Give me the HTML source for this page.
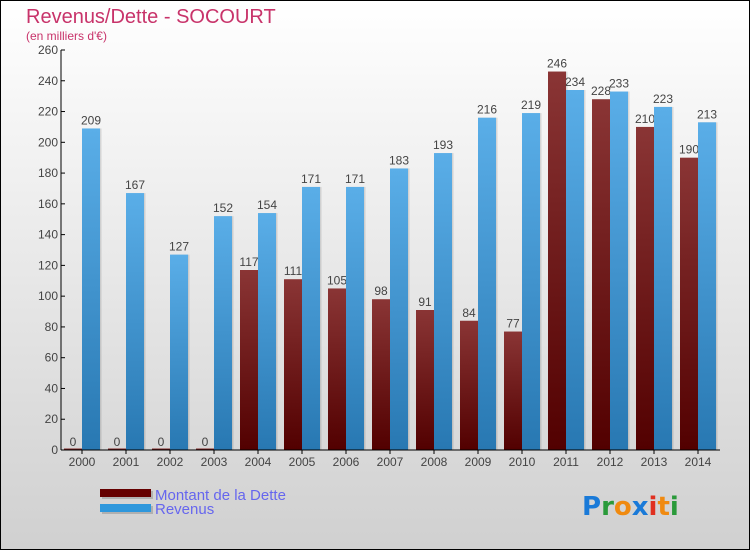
<!DOCTYPE html>
<html><head><meta charset="utf-8"><style>
body{margin:0;width:750px;height:550px;overflow:hidden;font-family:"Liberation Sans",sans-serif}
svg{display:block}
</style></head><body>
<svg width="750" height="550" viewBox="0 0 750 550">
<defs>
<linearGradient id="bg" x1="0" y1="0" x2="0" y2="1"><stop offset="0" stop-color="#ffffff"/><stop offset="1" stop-color="#d0d0d0"/></linearGradient>
<linearGradient id="gd" x1="0" y1="0" x2="0" y2="1"><stop offset="0" stop-color="#8a3535"/><stop offset="1" stop-color="#520000"/></linearGradient>
<linearGradient id="gr" x1="0" y1="0" x2="0" y2="1"><stop offset="0" stop-color="#5aaee8"/><stop offset="1" stop-color="#2878b2"/></linearGradient>
</defs>
<rect x="0.5" y="0.5" width="749" height="549" fill="url(#bg)" stroke="#000"/>
<text x="26" y="23" font-size="20" fill="#c8336a">Revenus/Dette - SOCOURT</text>
<text x="26" y="40" font-size="12" fill="#c8336a">(en milliers d'€)</text>
<g id="bars"></g>
<g id="axes"></g>
<g>
<rect x="102" y="491" width="51" height="8" fill="#999" opacity="0.6"/>
<rect x="100" y="489" width="51" height="8" fill="#650000"/>
<rect x="102" y="506" width="51" height="8" fill="#999" opacity="0.6"/>
<rect x="100" y="504" width="51" height="8" fill="#2e97dc"/>
<text x="155" y="500" font-size="15" fill="#6666ee">Montant de la Dette</text>
<text x="155" y="514" font-size="15" fill="#6666ee">Revenus</text>
</g>
<g font-size="26" font-weight="bold" font-family="'DejaVu Sans',sans-serif">
<text x="582" y="515"><tspan fill="#1a7ad8">P</tspan><tspan fill="#2a9a3a">r</tspan><tspan fill="#f08a10">o</tspan><tspan fill="#1a7ad8">x</tspan><tspan fill="#e03020">i</tspan><tspan fill="#f08a10">t</tspan><tspan fill="#2a9a3a">i</tspan></text>
</g>
</svg>
<script>
const years=["2000","2001","2002","2003","2004","2005","2006","2007","2008","2009","2010","2011","2012","2013","2014"];
const dette=[0,0,0,0,117,111,105,98,91,84,77,246,228,210,190];
const revenus=[209,167,127,152,154,171,171,183,193,216,219,234,233,223,213];
const yTicks=[0,20,40,60,80,100,120,140,160,180,200,220,240,260];
const NS="http://www.w3.org/2000/svg";
const x0=60,band=44,yBase=450,yTop=50,yMax=260;
function xc(i){return x0+band*i+band/2;}
function y(v){return yBase-(v/yMax)*(yBase-yTop);}
function mk(tag,attrs,parent){const e=document.createElementNS(NS,tag);for(const k in attrs)e.setAttribute(k,attrs[k]);parent.appendChild(e);return e;}
const bars=document.getElementById('bars'),axes=document.getElementById('axes');
years.forEach((yr,i)=>{
  const c=xc(i);
  [[dette[i],c-18,'url(#gd)','dette'],[revenus[i],c,'url(#gr)','revenus']].forEach(([v,bx,f,s])=>{
    const top=y(v),h=Math.max(yBase-top,1.5);
    const sh=mk('rect',{x:bx+1.5,y:yBase-h,width:18,height:h,fill:'#000',opacity:0.12},bars);
    
    
    const r=mk('rect',{x:bx,y:yBase-h,width:18,height:h,fill:f},bars);
    
    
    const t=mk('text',{x:bx+9,y:top-4,'font-size':12,'text-anchor':'middle',fill:'#444'},bars);
    t.textContent=v;
    
    
  });
  const tk=mk('line',{x1:c,x2:c,y1:yBase,y2:yBase+4,stroke:'#000'},axes);
  
  
  const lt=mk('text',{x:c,y:466,'font-size':12,'text-anchor':'middle',fill:'#444'},axes);
  lt.textContent=yr;
  
  
});
yTicks.forEach(v=>{
  const yy=y(v);
  const l=mk('line',{x1:61,x2:65,y1:yy,y2:yy,stroke:'#000'},axes);
  
  
  const t=mk('text',{x:58,y:yy+4,'font-size':12,'text-anchor':'end',fill:'#444'},axes);
  t.textContent=v;
  
  
});
const ya=mk('line',{x1:61,x2:61,y1:yTop,y2:yBase,stroke:'#000'},axes);


const xa=mk('line',{x1:61,x2:720,y1:yBase,y2:yBase,stroke:'#000'},axes);


</script>
</body></html>
